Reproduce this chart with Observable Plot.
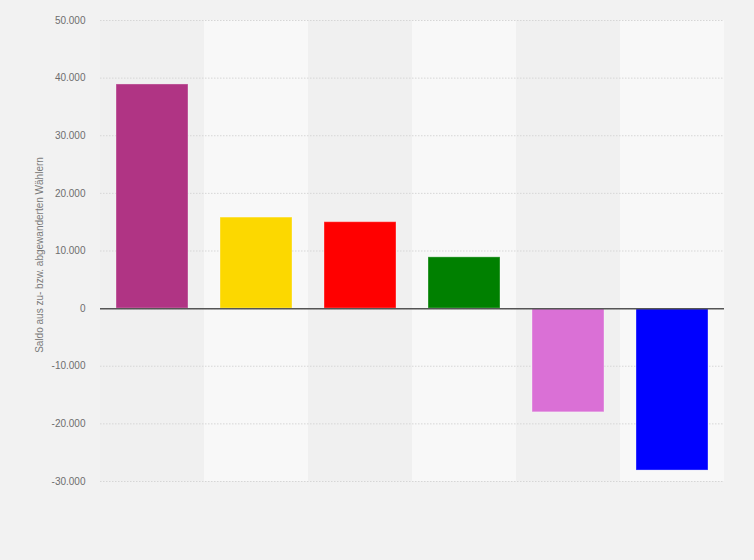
<!DOCTYPE html>
<html>
<head>
<meta charset="utf-8">
<script src="https://cdn.jsdelivr.net/npm/d3@7"></script>
<script src="https://cdn.jsdelivr.net/npm/@observablehq/plot@0.6"></script>
<style>
  html, body { margin: 0; padding: 0; background: #f2f2f2; }
  #chart { width: 754px; height: 560px; }
</style>
</head>
<body>
<div id="chart"></div>
<script>
const categories = ["Partei 1", "Partei 2", "Partei 3", "Partei 4", "Partei 5", "Partei 6"];
const values = [38900, 15800, 15000, 8900, -18000, -28100];
const colors = ["#b03484", "#fcd800", "#ff0000", "#008000", "#da70d6", "#0000ff"];
const yTicks = [-30000, -20000, -10000, 0, 10000, 20000, 30000, 40000, 50000];
const yLabel = "Saldo aus zu- bzw. abgewanderten Wählern";

const data = categories.map((c, i) => ({cat: c, value: values[i], color: colors[i], band: i % 2 === 0 ? "#f0f0f0" : "#f8f8f8"}));
const de = d3.formatLocale({decimal: ",", thousands: ".", grouping: [3], currency: ["", " €"], minus: "-"});
const fmt = de.format(",d");

const chart = Plot.plot({
  width: 754,
  height: 560,
  marginLeft: 100,
  marginRight: 30,
  marginTop: 20,
  marginBottom: 79,
  style: {background: "#f2f2f2", fontFamily: "Liberation Sans, Arial, sans-serif", fontSize: "10px"},
  x: {domain: categories, padding: 0, axis: null},
  y: {domain: [-30000, 50000]},
  marks: [
    Plot.barY(data, {x: "cat", y1: -30000, y2: 50000, fill: "band"}),
    Plot.gridY(yTicks, {stroke: "#d6d6d6", strokeOpacity: 1, strokeDasharray: "1.5,1.5"}),
    Plot.axisY(yTicks, {tickSize: 0, tickPadding: 15, tickFormat: fmt, label: null, fill: "#6e6e6e", fontSize: 10}),
    Plot.barY(data, {x: "cat", y: "value", fill: "color", insetLeft: 16, insetRight: 16, stroke: "white", strokeOpacity: 0.35, strokeWidth: 1}),
    Plot.ruleY([0], {stroke: "#555", strokeWidth: 1.5}),
    Plot.text([yLabel], {frameAnchor: "left", dx: -61, dy: 4, rotate: -90, textAnchor: "middle", fill: "#7a7a7a", fontSize: 10})
  ]
});
document.getElementById("chart").append(chart);
</script>
</body>
</html>
